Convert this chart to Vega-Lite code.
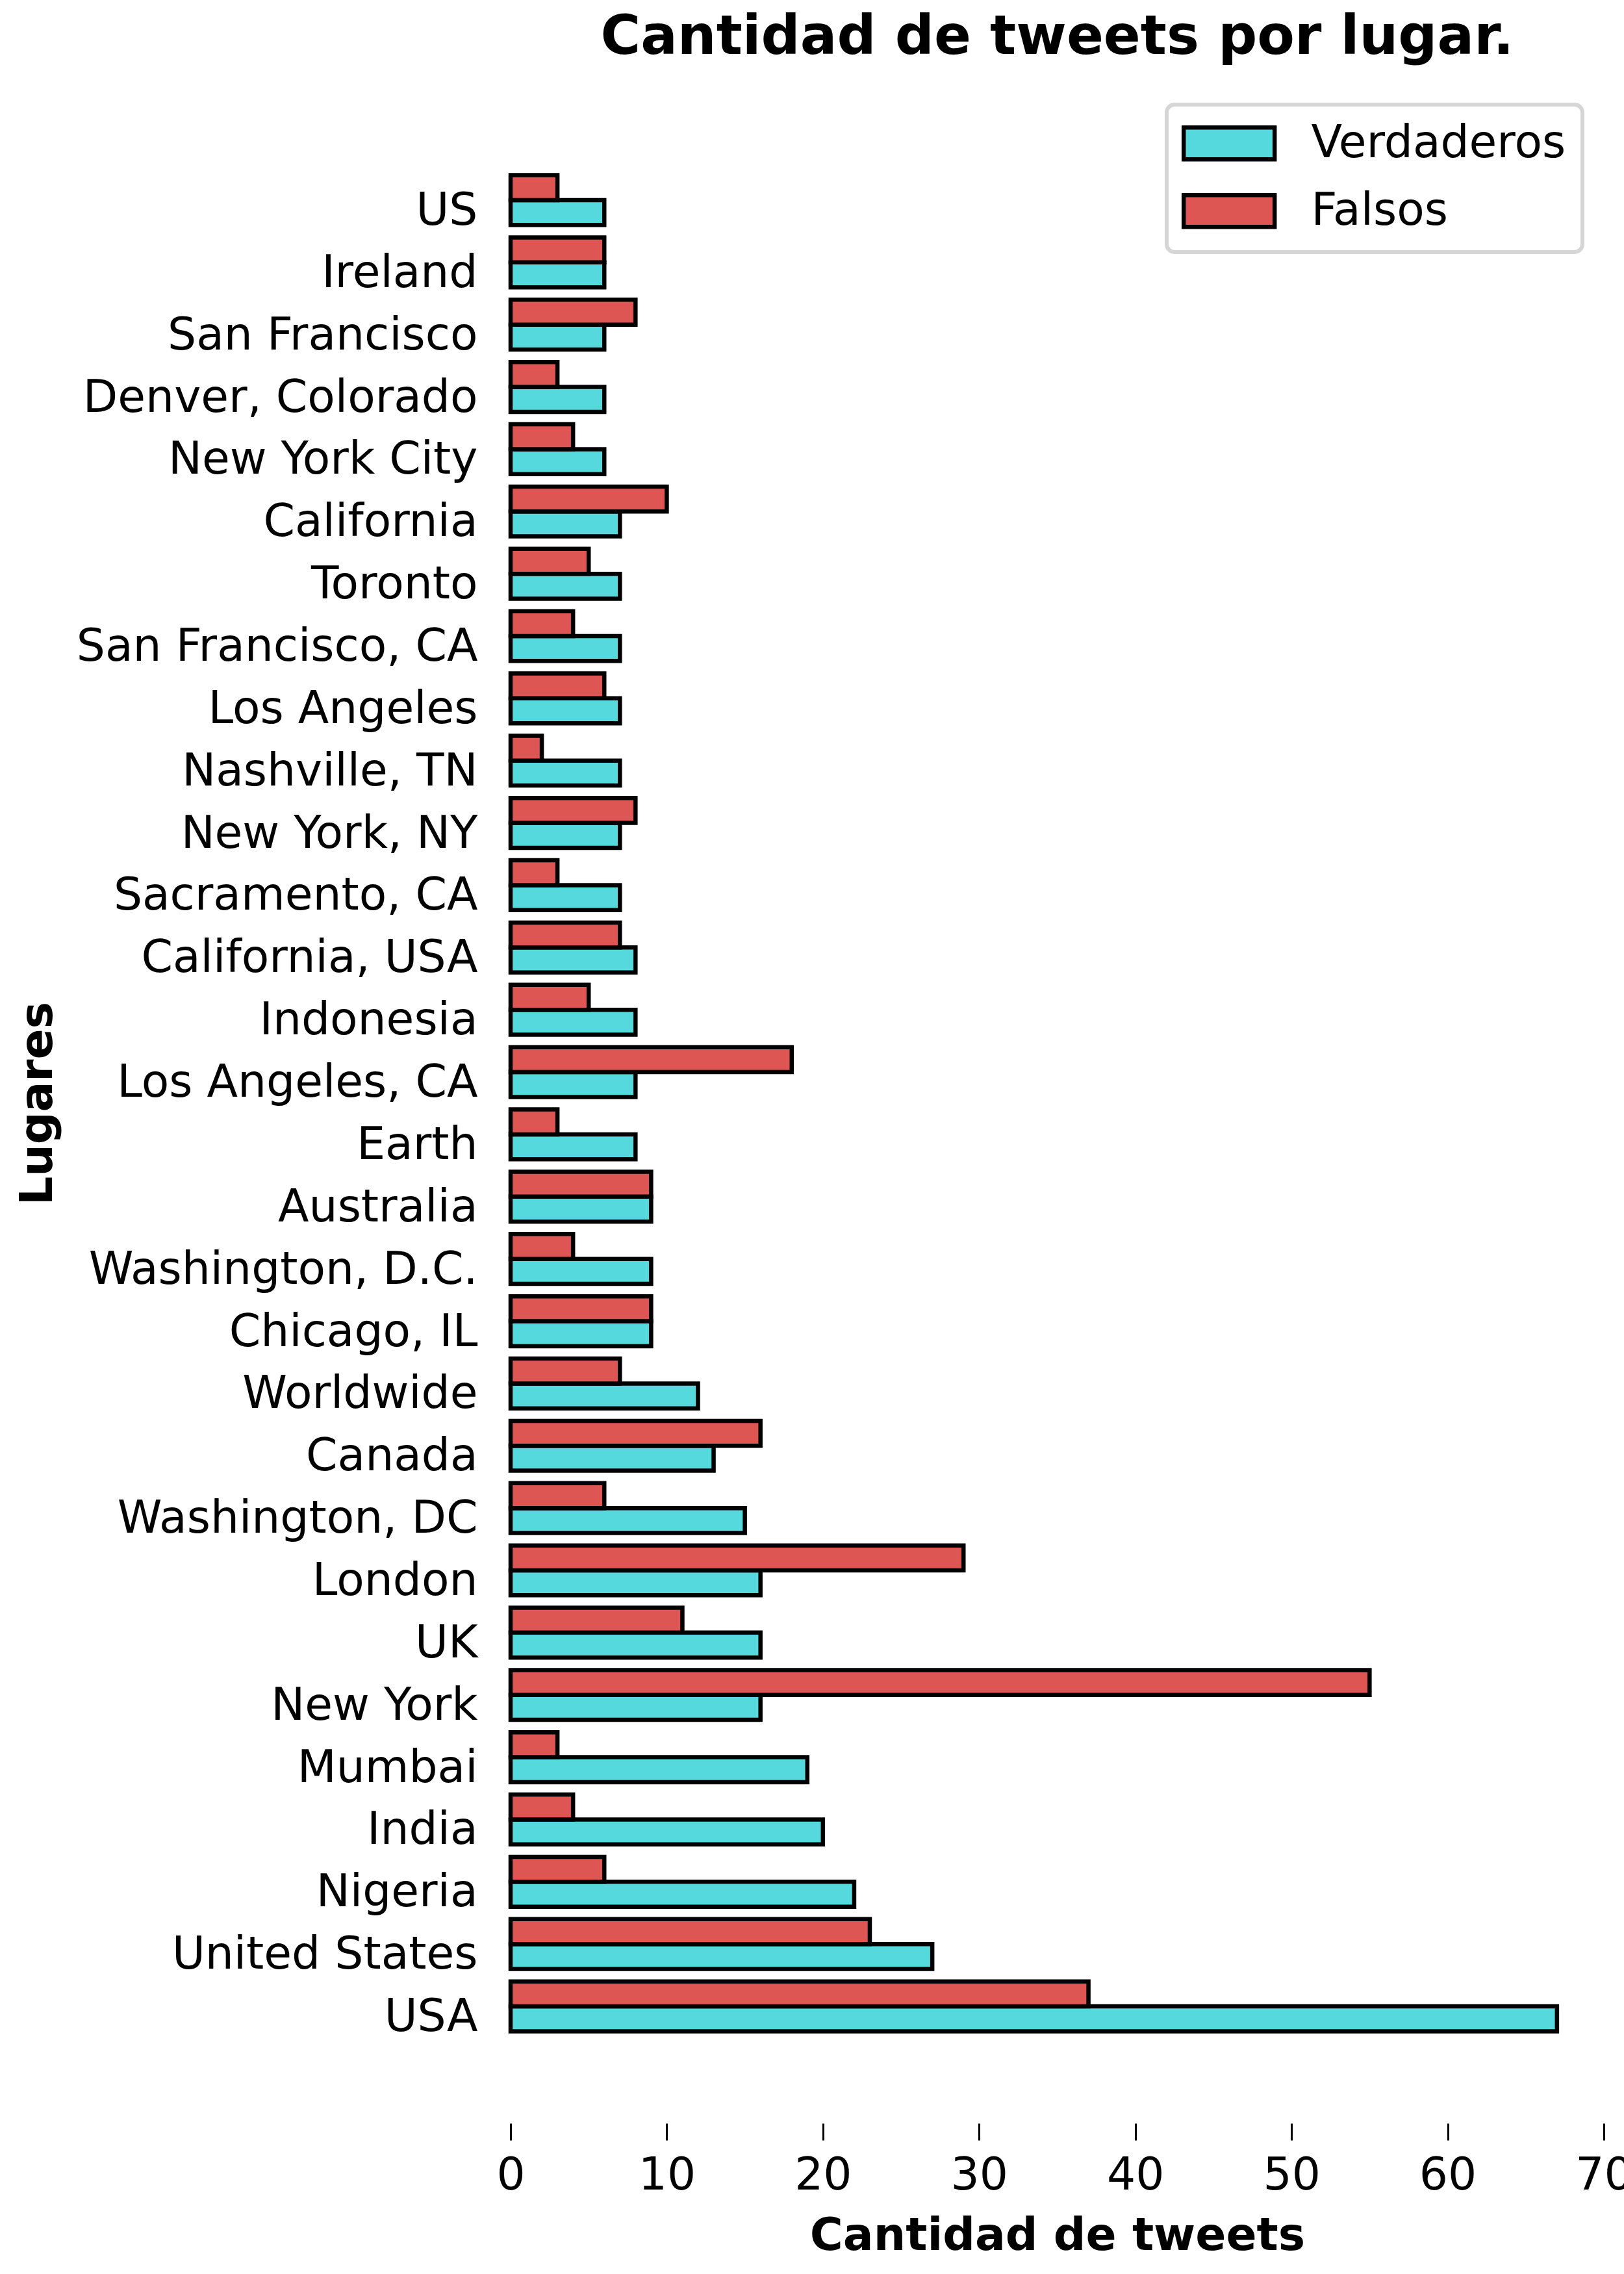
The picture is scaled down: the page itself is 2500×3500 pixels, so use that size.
{
  "$schema": "https://vega.github.io/schema/vega-lite/v6.json",
  "autosize": {"type": "none"},
  "width": 1683,
  "height": 2876,
  "padding": {"left": 786, "top": 260, "right": 31, "bottom": 364},
  "background": "white",
  "config": {
    "font": "DejaVu Sans",
    "view": {"stroke": null},
    "axis": {"labelColor": "black", "titleColor": "black", "labelFont": "DejaVu Sans", "titleFont": "DejaVu Sans"},
    "legend": {"strokeWidth": 6}
  },
  "title": {
    "text": "Cantidad de tweets por lugar.",
    "fontSize": 84,
    "fontWeight": "bold",
    "font": "DejaVu Sans",
    "color": "black",
    "anchor": "middle",
    "frame": "group",
    "baseline": "bottom",
    "offset": -27
  },
  "data": {
    "values": [
      {"lugar": "US", "tipo": "Verdaderos", "n": 6}, {"lugar": "US", "tipo": "Falsos", "n": 3},
      {"lugar": "Ireland", "tipo": "Verdaderos", "n": 6}, {"lugar": "Ireland", "tipo": "Falsos", "n": 6},
      {"lugar": "San Francisco", "tipo": "Verdaderos", "n": 6}, {"lugar": "San Francisco", "tipo": "Falsos", "n": 8},
      {"lugar": "Denver, Colorado", "tipo": "Verdaderos", "n": 6}, {"lugar": "Denver, Colorado", "tipo": "Falsos", "n": 3},
      {"lugar": "New York City", "tipo": "Verdaderos", "n": 6}, {"lugar": "New York City", "tipo": "Falsos", "n": 4},
      {"lugar": "California", "tipo": "Verdaderos", "n": 7}, {"lugar": "California", "tipo": "Falsos", "n": 10},
      {"lugar": "Toronto", "tipo": "Verdaderos", "n": 7}, {"lugar": "Toronto", "tipo": "Falsos", "n": 5},
      {"lugar": "San Francisco, CA", "tipo": "Verdaderos", "n": 7}, {"lugar": "San Francisco, CA", "tipo": "Falsos", "n": 4},
      {"lugar": "Los Angeles", "tipo": "Verdaderos", "n": 7}, {"lugar": "Los Angeles", "tipo": "Falsos", "n": 6},
      {"lugar": "Nashville, TN", "tipo": "Verdaderos", "n": 7}, {"lugar": "Nashville, TN", "tipo": "Falsos", "n": 2},
      {"lugar": "New York, NY", "tipo": "Verdaderos", "n": 7}, {"lugar": "New York, NY", "tipo": "Falsos", "n": 8},
      {"lugar": "Sacramento, CA", "tipo": "Verdaderos", "n": 7}, {"lugar": "Sacramento, CA", "tipo": "Falsos", "n": 3},
      {"lugar": "California, USA", "tipo": "Verdaderos", "n": 8}, {"lugar": "California, USA", "tipo": "Falsos", "n": 7},
      {"lugar": "Indonesia", "tipo": "Verdaderos", "n": 8}, {"lugar": "Indonesia", "tipo": "Falsos", "n": 5},
      {"lugar": "Los Angeles, CA", "tipo": "Verdaderos", "n": 8}, {"lugar": "Los Angeles, CA", "tipo": "Falsos", "n": 18},
      {"lugar": "Earth", "tipo": "Verdaderos", "n": 8}, {"lugar": "Earth", "tipo": "Falsos", "n": 3},
      {"lugar": "Australia", "tipo": "Verdaderos", "n": 9}, {"lugar": "Australia", "tipo": "Falsos", "n": 9},
      {"lugar": "Washington, D.C.", "tipo": "Verdaderos", "n": 9}, {"lugar": "Washington, D.C.", "tipo": "Falsos", "n": 4},
      {"lugar": "Chicago, IL", "tipo": "Verdaderos", "n": 9}, {"lugar": "Chicago, IL", "tipo": "Falsos", "n": 9},
      {"lugar": "Worldwide", "tipo": "Verdaderos", "n": 12}, {"lugar": "Worldwide", "tipo": "Falsos", "n": 7},
      {"lugar": "Canada", "tipo": "Verdaderos", "n": 13}, {"lugar": "Canada", "tipo": "Falsos", "n": 16},
      {"lugar": "Washington, DC", "tipo": "Verdaderos", "n": 15}, {"lugar": "Washington, DC", "tipo": "Falsos", "n": 6},
      {"lugar": "London", "tipo": "Verdaderos", "n": 16}, {"lugar": "London", "tipo": "Falsos", "n": 29},
      {"lugar": "UK", "tipo": "Verdaderos", "n": 16}, {"lugar": "UK", "tipo": "Falsos", "n": 11},
      {"lugar": "New York", "tipo": "Verdaderos", "n": 16}, {"lugar": "New York", "tipo": "Falsos", "n": 55},
      {"lugar": "Mumbai", "tipo": "Verdaderos", "n": 19}, {"lugar": "Mumbai", "tipo": "Falsos", "n": 3},
      {"lugar": "India", "tipo": "Verdaderos", "n": 20}, {"lugar": "India", "tipo": "Falsos", "n": 4},
      {"lugar": "Nigeria", "tipo": "Verdaderos", "n": 22}, {"lugar": "Nigeria", "tipo": "Falsos", "n": 6},
      {"lugar": "United States", "tipo": "Verdaderos", "n": 27}, {"lugar": "United States", "tipo": "Falsos", "n": 23},
      {"lugar": "USA", "tipo": "Verdaderos", "n": 67}, {"lugar": "USA", "tipo": "Falsos", "n": 37}
    ]
  },
  "mark": {"type": "bar", "stroke": "black", "strokeWidth": 6.5, "opacity": 1, "fillOpacity": 1},
  "encoding": {
    "y": {
      "field": "lugar",
      "type": "nominal",
      "sort": null,
      "scale": {"paddingInner": 0.2, "paddingOuter": 0.1},
      "axis": {
        "title": "Lugares",
        "titleFontSize": 69.5,
        "titleFontWeight": "bold",
        "titleX": -692,
        "titleY": 1438,
        "titleAngle": -90,
        "titleBaseline": "bottom",
        "titleAlign": "center",
        "labelFontSize": 69.5,
        "labelPadding": 51,
        "labelOffset": 17,
        "labelBaseline": "middle",
        "ticks": false,
        "tickSize": 0,
        "domain": false,
        "labelLimit": 2000
      }
    },
    "yOffset": {
      "field": "tipo",
      "type": "nominal",
      "sort": ["Falsos", "Verdaderos"],
      "scale": {"paddingInner": 0, "paddingOuter": 0}
    },
    "x": {
      "field": "n",
      "type": "quantitative",
      "scale": {"domain": [0, 70], "nice": false},
      "axis": {
        "title": "Cantidad de tweets",
        "titleFontSize": 69.5,
        "titleFontWeight": "bold",
        "titlePadding": 25,
        "labelFontSize": 69.5,
        "labelPadding": 20,
        "values": [0, 10, 20, 30, 40, 50, 60, 70],
        "tickSize": 26,
        "tickWidth": 3,
        "tickColor": "black",
        "domain": false,
        "grid": false,
        "offset": 132,
        "labelFlush": false,
        "labelOverlap": false
      }
    },
    "color": {
      "field": "tipo",
      "type": "nominal",
      "scale": {"domain": ["Verdaderos", "Falsos"], "range": ["#55D9DC", "#DD5653"]},
      "legend": {
        "title": null,
        "orient": "none",
        "legendX": 1010,
        "legendY": -99,
        "direction": "vertical",
        "symbolType": "M-1.37,-1H4.344V1H-1.37Z",
        "symbolSize": 2401,
        "symbolStrokeColor": "black",
        "symbolStrokeWidth": 6.5,
        "symbolOpacity": 1,
        "labelFontSize": 69.5,
        "labelFont": "DejaVu Sans",
        "labelColor": "black",
        "labelOffset": 128,
        "labelBaseline": "middle",
        "rowPadding": 28,
        "padding": 25,
        "strokeColor": "#d6d6d6",
        "cornerRadius": 12,
        "fillColor": "white",
        "labelLimit": 2000
      }
    }
  }
}
